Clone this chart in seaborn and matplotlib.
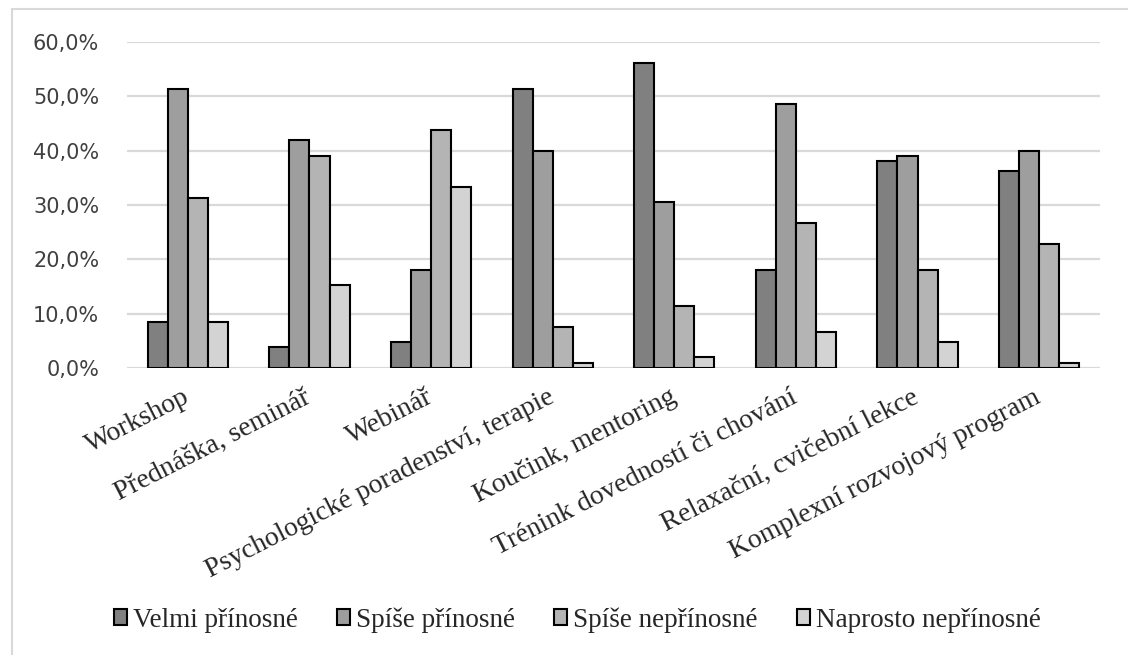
import pandas as pd
import numpy as np
import matplotlib
matplotlib.use("Agg")
import matplotlib.pyplot as plt
import seaborn as sns
from matplotlib.ticker import FuncFormatter
from matplotlib.patches import Rectangle

categories = ['Workshop', 'Přednáška, seminář', 'Webinář',
              'Psychologické poradenství, terapie', 'Koučink, mentoring',
              'Trénink dovedností či chování', 'Relaxační, cvičební lekce',
              'Komplexní rozvojový program']

series = ['Velmi přínosné', 'Spíše přínosné', 'Spíše nepřínosné', 'Naprosto nepřínosné']

velmi = [8.5, 3.9, 4.8, 51.3, 56.1, 18.0, 38.1, 36.2]
spise_prinosne = [51.3, 42.0, 18.0, 40.0, 30.5, 48.6, 39.1, 40.0]
spise_neprinosne = [31.2, 39.1, 43.8, 7.6, 11.4, 26.6, 18.0, 22.9]
naprosto = [8.5, 15.2, 33.3, 1.0, 2.0, 6.6, 4.8, 1.0]

colors = ['#808080', '#9e9e9e', '#b4b4b4', '#d3d3d3']

rows = []
for name, vals in zip(series, [velmi, spise_prinosne, spise_neprinosne, naprosto]):
    for cat, v in zip(categories, vals):
        rows.append({'cat': cat, 'series': name, 'val': v / 100})
df = pd.DataFrame(rows)

sns.set_style('white')

fig = plt.figure(figsize=(11.28, 6.55), dpi=100)
ax = fig.add_axes([127/1128, 1-368/655, (1100-127)/1128, (368-42)/655])

sns.barplot(data=df, x='cat', y='val', hue='series', palette=colors,
            edgecolor='black', linewidth=1.5, width=0.66, ax=ax, legend=False)

ax.set_ylim(0, 0.6)
ax.set_yticks(np.arange(0, 0.61, 0.1))
ax.yaxis.set_major_formatter(FuncFormatter(lambda v, p: f'{v*100:.1f}%'.replace('.', ',')))
ax.grid(axis='y', color='#d9d9d9', linewidth=1.6)
ax.set_axisbelow(True)
for s in ax.spines.values():
    s.set_visible(False)
ax.set_xlabel('')
ax.set_ylabel('')
ax.tick_params(axis='y', length=0, pad=20, labelsize=15, labelcolor='#404040')
ax.tick_params(axis='x', length=0, pad=20)
for lab in ax.get_xticklabels():
    lab.set_family('Liberation Serif')
    lab.set_fontsize(20)
    lab.set_rotation(27)
    lab.set_ha('right')
    lab.set_va('center')
    lab.set_rotation_mode('anchor')

handles = [Rectangle((0, 0), 1, 1, facecolor=c, edgecolor='black', linewidth=1.5) for c in colors]
fig.legend(handles, series, loc='center', bbox_to_anchor=(577/1128, 1-620/655), ncol=4,
           frameon=False, handlelength=0.5, handleheight=0.5, handletextpad=0.2,
           columnspacing=1.45, prop={'family': 'Liberation Serif', 'size': 19.5})

fig.add_artist(Rectangle((12/1128, -0.1), 1.2, 1.1 - 9/655, transform=fig.transFigure,
                         fill=False, edgecolor='#d9d9d9', linewidth=1.5))

plt.savefig('out.png', dpi=100)
